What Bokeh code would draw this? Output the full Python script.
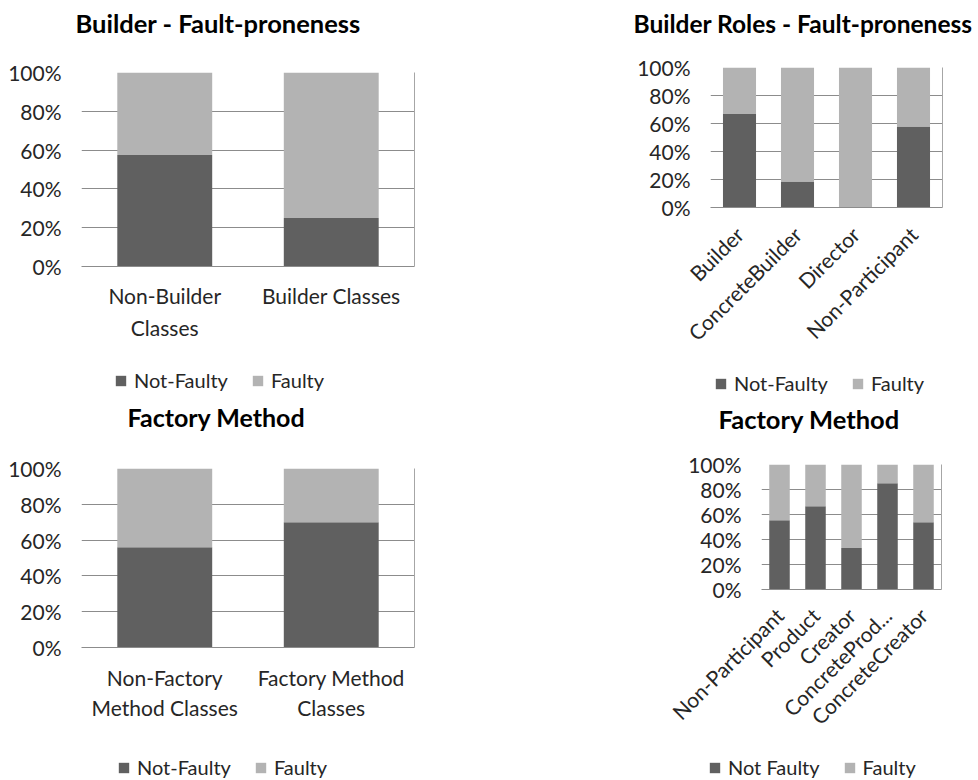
from bokeh.plotting import figure
from bokeh.layouts import row, column
from bokeh.models import (FactorRange, Range1d, NumeralTickFormatter, FixedTicker,
                          LinearAxis, Title, Legend, LegendItem)
from bokeh.embed import file_html
from bokeh.resources import INLINE

# ---------------- data ----------------
series = ["not_faulty", "faulty"]

builder_cats = ["Non-Builder\nClasses", "Builder Classes"]
builder_not_faulty = [0.575, 0.25]
builder_faulty = [0.425, 0.75]

roles_cats = ["Builder", "ConcreteBuilder", "Director", "Non-Participant"]
roles_not_faulty = [0.667, 0.185, 0.0, 0.578]
roles_faulty = [0.333, 0.815, 1.0, 0.422]

fm_cats = ["Non-Factory\nMethod Classes", "Factory Method\nClasses"]
fm_not_faulty = [0.56, 0.70]
fm_faulty = [0.44, 0.30]

fmr_cats = ["Non-Participant", "Product", "Creator", "ConcreteProd...", "ConcreteCreator"]
fmr_not_faulty = [0.555, 0.667, 0.333, 0.85, 0.538]
fmr_faulty = [0.445, 0.333, 0.667, 0.15, 0.462]

y_ticks = [0, 0.2, 0.4, 0.6, 0.8, 1.0]

DARK = "#606060"
LIGHT = "#b3b3b3"
FONT = "Lato"
TXT = "#262626"


def chart(cats, nf, fa, title, *, width, height, left, right, top, bottom,
          title_offset, title_standoff, rotate=False, label_standoff=8,
          line_height=1.2, tick_size="21px", title_size="25px", title_lh=1.0):
    p = figure(x_range=FactorRange(*cats), y_range=Range1d(0, 1),
               width=width, height=height,
               min_border_left=left, min_border_right=right,
               min_border_top=top, min_border_bottom=bottom,
               output_backend="svg", toolbar_location=None,
               outline_line_color=None, background_fill_color="white")
    data = {"cats": cats, "not_faulty": nf, "faulty": fa}
    p.vbar_stack(series, x="cats", width=0.57, color=[DARK, LIGHT],
                 line_color=None, source=data)

    p.xgrid.grid_line_color = None
    p.ygrid.grid_line_color = "#8c8c8c"
    p.ygrid.grid_line_width = 1
    p.ygrid.ticker = FixedTicker(ticks=y_ticks)

    ya = p.yaxis[0]
    ya.ticker = FixedTicker(ticks=y_ticks)
    ya.formatter = NumeralTickFormatter(format="0%")
    ya.axis_line_color = None
    ya.major_tick_line_color = None
    ya.major_tick_out = 0
    ya.minor_tick_line_color = None
    ya.major_label_text_font = FONT
    ya.major_label_text_font_size = tick_size
    ya.major_label_text_color = TXT
    ya.major_label_standoff = 20

    xa = p.xaxis[0]
    xa.axis_line_color = "#8c8c8c"
    xa.major_tick_line_color = None
    xa.major_tick_out = 0
    xa.minor_tick_line_color = None
    xa.major_label_text_font = FONT
    xa.major_label_text_font_size = tick_size
    xa.major_label_text_color = TXT
    xa.major_label_standoff = label_standoff
    xa.major_label_text_line_height = line_height
    if rotate:
        xa.major_label_orientation = 0.785398

    # right-hand border of the plot area
    ra = LinearAxis(ticker=FixedTicker(ticks=[]), axis_line_color="#a6a6a6",
                    major_tick_line_color=None, minor_tick_line_color=None,
                    major_tick_out=0)
    p.add_layout(ra, "right")

    p.add_layout(Title(text=title + "\n ", align="left", offset=title_offset,
                       standoff=title_standoff,
                       text_font=FONT, text_font_style="bold",
                       text_font_size=title_size, text_line_height=title_lh,
                       text_color="#000000"), "above")
    return p


def legend_fig(cats, nf, fa, labels, *, width, height, x, y):
    # the legend lives in its own small plot; its bar renderers are hidden so only
    # the legend swatches show
    lg = figure(width=width, height=height, min_border=0,
                x_range=FactorRange(*cats), y_range=Range1d(-3, -2),
                x_axis_location=None, y_axis_location=None,
                output_backend="svg", toolbar_location=None,
                outline_line_color=None)
    lg.xgrid.visible = False
    lg.ygrid.visible = False
    rs = lg.vbar_stack(series, x="cats", width=0.57, color=[DARK, LIGHT], line_color=None,
                       source={"cats": cats, "not_faulty": nf, "faulty": fa})
    for r in rs:
        r.visible = False
    leg = Legend(items=[LegendItem(label=labels[0], renderers=[rs[0]]),
                        LegendItem(label=labels[1], renderers=[rs[1]])],
                 orientation="horizontal", location=(x, y),
                 padding=0, margin=0, spacing=23, label_standoff=7,
                 glyph_width=13, glyph_height=13, label_height=20,
                 background_fill_alpha=0, border_line_color=None,
                 inactive_fill_alpha=0,
                 label_text_font=FONT, label_text_font_size="20px",
                 label_text_color=TXT)
    lg.add_layout(leg, "center")
    return lg


p1 = chart(builder_cats, builder_not_faulty, builder_faulty, "Builder - Fault-proneness",
           width=540, height=355, left=81, right=126, top=72, bottom=89,
           title_offset=-6, title_standoff=10, label_standoff=16, line_height=1.28,
           title_size="25.5px")
lg1 = legend_fig(builder_cats, builder_not_faulty, builder_faulty, ["Not-Faulty", "Faulty"],
                 width=540, height=40, x=114, y=3)

p3 = chart(fm_cats, fm_not_faulty, fm_faulty, "Factory Method",
           width=540, height=345, left=81, right=126, top=72, bottom=93,
           title_offset=46, title_standoff=8, label_standoff=17, line_height=1.23,
           title_lh=1.1)
lg3 = legend_fig(fm_cats, fm_not_faulty, fm_faulty, ["Not-Faulty", "Faulty"],
                 width=540, height=40, x=117, y=1)

p2 = chart(roles_cats, roles_not_faulty, roles_faulty, "Builder Roles - Fault-proneness",
           width=438, height=360, left=170, right=36, top=67, bottom=153,
           title_offset=-77, title_standoff=2, rotate=True, label_standoff=23,
           title_size="24.5px")
lg2 = legend_fig(roles_cats, roles_not_faulty, roles_faulty, ["Not-Faulty", "Faulty"],
                 width=438, height=40, x=174, y=5)

p4 = chart(fmr_cats, fmr_not_faulty, fmr_faulty, "Factory Method",
           width=438, height=340, left=221, right=37, top=63, bottom=151,
           title_offset=-43, title_standoff=2, rotate=True, label_standoff=22,
           title_size="25.5px")
lg4 = legend_fig(fmr_cats, fmr_not_faulty, fmr_faulty, ["Not Faulty", "Faulty"],
                 width=438, height=40, x=168, y=1)

layout = row(column(p1, row(lg1), p3, row(lg3), spacing=0),
             column(p2, row(lg2), row(p4), row(lg4), spacing=0),
             spacing=0)

open("out.html", "w").write(file_html(layout, INLINE))
